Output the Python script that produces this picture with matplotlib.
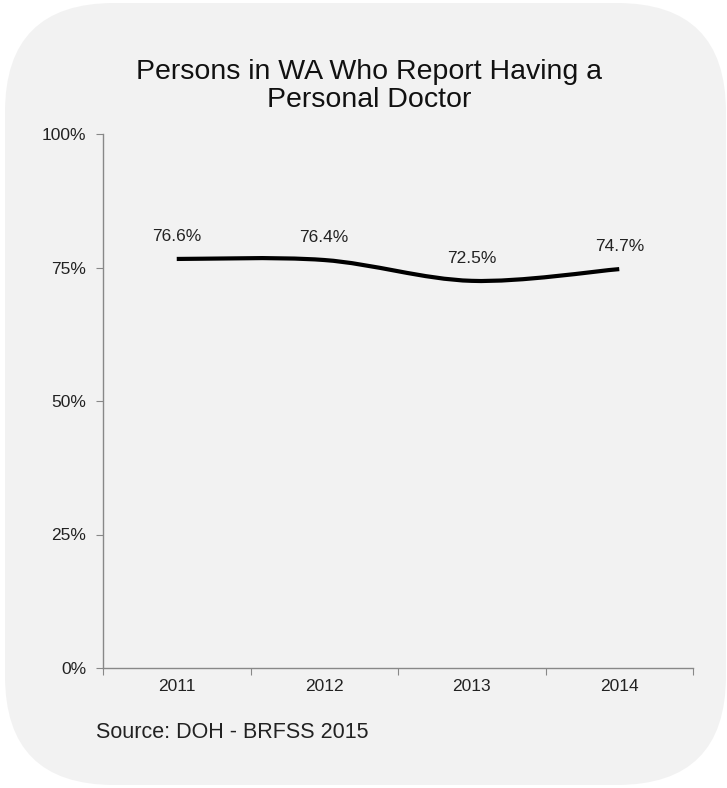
import matplotlib
matplotlib.use("Agg")
import matplotlib.pyplot as plt
import numpy as np
from matplotlib.patches import FancyBboxPatch, PathPatch
from matplotlib.path import Path

years = ["2011", "2012", "2013", "2014"]
values = [76.6, 76.4, 72.5, 74.7]
labels = ["76.6%", "76.4%", "72.5%", "74.7%"]
yticks = [0, 25, 50, 75, 100]
yticklabels = ["0%", "25%", "50%", "75%", "100%"]
title = "Persons in WA Who Report Having a\nPersonal Doctor"
source = "Source: DOH - BRFSS 2015"

plt.rcParams['font.family'] = ['Liberation Sans', 'DejaVu Sans']
W, H = 727, 788
fig = plt.figure(figsize=(W/100, H/100), dpi=100)
fig.patch.set_facecolor('white')

bg = FancyBboxPatch((5/W, 3/H), 721/W, 782/H,
                    boxstyle="round,pad=0,rounding_size=0.15",
                    transform=fig.transFigure, facecolor='#f2f2f2',
                    edgecolor='none', mutation_aspect=W/H, zorder=-5)
fig.patches.append(bg)

ax = fig.add_axes([103/W, 1-668/H, 590/W, 534/H])
ax.set_zorder(2)
ax.set_facecolor('none')
ax.set_xlim(0, len(years))
ax.set_ylim(0, 100)

x = np.arange(len(years)) + 0.5
# smooth curve through points using Catmull-Rom -> cubic Bezier
pts = np.column_stack([x, values])
verts = [tuple(pts[0])]
codes = [Path.MOVETO]
t = 1/6
for i in range(len(pts)-1):
    p0 = pts[i-1] if i > 0 else pts[i]
    p1 = pts[i]
    p2 = pts[i+1]
    p3 = pts[i+2] if i+2 < len(pts) else pts[i+1]
    c1 = p1 + (p2 - p0) * t
    c2 = p2 - (p3 - p1) * t
    verts += [tuple(c1), tuple(c2), tuple(p2)]
    codes += [Path.CURVE4]*3
ax.add_patch(PathPatch(Path(verts, codes), facecolor='none', edgecolor='black',
                       lw=3.0, capstyle='butt', zorder=3))

for xi, v, lab in zip(x, values, labels):
    ax.annotate(lab, (xi, v), xytext=(0, 16), textcoords='offset points',
                ha='center', va='center', fontsize=12.5, color='#222222')

for s in ['top', 'right']:
    ax.spines[s].set_visible(False)
for s in ['left', 'bottom']:
    ax.spines[s].set_color('#888888')
    ax.spines[s].set_linewidth(1)

ax.set_yticks(yticks)
ax.set_yticklabels(yticklabels, fontsize=12.5, color='#222222')
ax.set_xticks(np.arange(len(years)+1))
ax.set_xticklabels([])
ax.set_xticks(x, minor=True)
ax.set_xticklabels(years, minor=True, fontsize=12.5, color='#222222')
ax.tick_params(axis='x', which='minor', length=0, pad=8)
ax.tick_params(axis='x', which='major', length=5, color='#888888', direction='out')
ax.tick_params(axis='y', length=5, color='#888888', pad=7)

fig.text(369/W, 1-86/H, title, ha='center', va='center', fontsize=20.5,
         color='#111111', linespacing=1.08)
fig.text(96/W, 1-733/H, source, ha='left', va='center', fontsize=15.5, color='#222222')

fig.savefig("out.png", dpi=100, facecolor='white')
